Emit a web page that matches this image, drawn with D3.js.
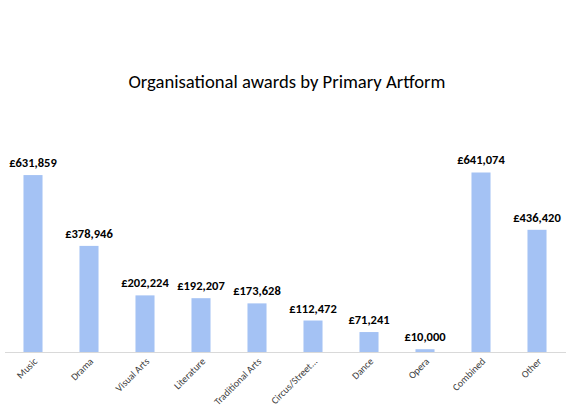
<!DOCTYPE html>
<html><head><meta charset="utf-8">
<script src="https://cdn.jsdelivr.net/npm/d3@7"></script>
<style>body{margin:0;background:#fff}svg{display:block}</style>
</head><body>
<script>
const categories = ["Music","Drama","Visual Arts","Literature","Traditional Arts","Circus/Street...","Dance","Opera","Combined","Other"];
const values = [631859,378946,202224,192207,173628,112472,71241,10000,641074,436420];
const title = "Organisational awards by Primary Artform";

const W = 577, H = 413;
const svg = d3.select("body").append("svg").attr("width", W).attr("height", H);
const x = d3.scaleBand().domain(categories).range([5, 565]).paddingInner(0.66).paddingOuter(0.33);
const y = d3.scaleLinear().domain([0, 700000]).range([352, 156]);
const fmt = v => "£" + d3.format(",")(v);
const ff = "Carlito, Lato, 'Liberation Sans', sans-serif";

svg.append("text").attr("x", 287).attr("y", 88).attr("text-anchor", "middle")
  .attr("font-family", ff).attr("font-size", 18)
  .attr("fill", "#000").attr("textLength", 317).attr("lengthAdjust", "spacingAndGlyphs").text(title);

svg.selectAll("rect.bar").data(values).enter().append("rect").attr("class", "bar")
  .attr("x", (d, i) => x(categories[i])).attr("width", x.bandwidth())
  .attr("y", d => y(d)).attr("height", d => y(0) - y(d)).attr("fill", "#a4c2f4");

svg.append("line").attr("x1", 5).attr("x2", 566).attr("y1", 352.5).attr("y2", 352.5)
  .attr("stroke", "#d9d9d9").attr("stroke-width", 1.2);

svg.selectAll("text.val").data(values).enter().append("text").attr("class", "val")
  .attr("x", (d, i) => x(categories[i]) + x.bandwidth() / 2).attr("y", d => y(d) - 8)
  .attr("text-anchor", "middle").attr("font-family", ff)
  .attr("font-weight", "bold").attr("font-size", 12.5).attr("fill", "#000").text(fmt);

svg.selectAll("text.cat").data(categories).enter().append("text").attr("class", "cat")
  .attr("transform", d => `translate(${x(d) + x.bandwidth() / 2 + 5},${362}) rotate(-45)`)
  .attr("text-anchor", "end").attr("font-family", ff)
  .attr("font-size", 10).attr("fill", "#404040").text(d => d);
</script>
</body></html>
